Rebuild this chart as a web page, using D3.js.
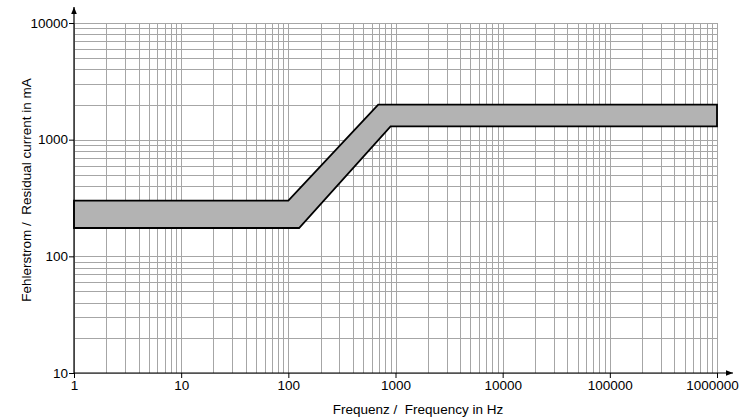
<!DOCTYPE html>
<html>
<head>
<meta charset="utf-8">
<script src="https://cdn.jsdelivr.net/npm/d3@7"></script>
<style>
  body { margin: 0; background: #fff; }
  text { font-family: "Liberation Sans", Arial, sans-serif; }
</style>
</head>
<body>
<div id="chart"></div>
<script>
// Band limits (frequency in Hz, current in mA)
var upperFreq = [1, 100, 690, 1000000]
var upperCur = [300, 300, 2000, 2000]
var lowerFreq = [1, 126, 900, 1000000]
var lowerCur = [175, 175, 1300, 1300]

var xTicks = [1, 10, 100, 1000, 10000, 100000, 1000000]
var yTicks = [10, 100, 1000, 10000]

var width = 739
var height = 419

var x = d3.scaleLog().domain([1, 1000000]).range([74, 717])
var y = d3.scaleLog().domain([10, 10000]).range([373, 23])

var svg = d3.select("#chart").append("svg")
  .attr("width", width)
  .attr("height", height)

// grid lines: every 1..9 of each decade
var xGrid = []
for (var e = 0; e < 6; e++) for (var m = 1; m < 10; m++) xGrid.push(m * Math.pow(10, e))
xGrid.push(1000000)
var yGrid = []
for (var e2 = 1; e2 < 4; e2++) for (var m2 = 1; m2 < 10; m2++) yGrid.push(m2 * Math.pow(10, e2))
yGrid.push(10000)

svg.append("g").selectAll("line")
  .data(xGrid)
  .enter().append("line")
  .attr("x1", d => Math.round(x(d)) + 0.5)
  .attr("x2", d => Math.round(x(d)) + 0.5)
  .attr("y1", y(10))
  .attr("y2", y(10000))
  .attr("stroke", "#a6a6a6")
  .attr("stroke-width", 1)

svg.append("g").selectAll("line")
  .data(yGrid)
  .enter().append("line")
  .attr("x1", x(1))
  .attr("x2", x(1000000))
  .attr("y1", d => Math.round(y(d)) + 0.5)
  .attr("y2", d => Math.round(y(d)) + 0.5)
  .attr("stroke", "#a6a6a6")
  .attr("stroke-width", 1)

// band polygon
var upper = upperFreq.map((f, i) => [x(f), y(upperCur[i])])
var lower = lowerFreq.map((f, i) => [x(f), y(lowerCur[i])])
var poly = upper.concat(lower.reverse())

svg.append("path")
  .attr("d", d3.line()(poly) + "Z")
  .attr("fill", "#b3b3b3")
  .attr("stroke", "#000")
  .attr("stroke-width", 1.8)
  .attr("stroke-linejoin", "miter")

// arrow marker
svg.append("defs").append("marker")
  .attr("id", "arrow")
  .attr("viewBox", "0 0 10 10")
  .attr("refX", 10)
  .attr("refY", 5)
  .attr("markerWidth", 7)
  .attr("markerHeight", 7)
  .attr("markerUnits", "userSpaceOnUse")
  .attr("orient", "auto")
  .append("path")
  .attr("d", "M0,1L10,5L0,9Z")
  .attr("fill", "#000")

// axes
var xAxis = d3.axisBottom(x).tickValues(xTicks).tickFormat(d3.format("d")).tickSize(5).tickSizeOuter(0).tickPadding(2)
var yAxis = d3.axisLeft(y).tickValues(yTicks).tickFormat(d3.format("d")).tickSize(5).tickSizeOuter(0).tickPadding(1)

var gx = svg.append("g")
  .attr("transform", "translate(0," + y(10) + ")")
  .call(xAxis)
gx.select(".domain").remove()
gx.selectAll("text").attr("font-size", "13.5px").attr("fill", "#000")
gx.selectAll("line").attr("stroke", "#000")
// keep the last label inside the picture
gx.selectAll("text").filter(d => d === 1000000).attr("dx", -5)

var gy = svg.append("g")
  .attr("transform", "translate(" + x(1) + ",0)")
  .call(yAxis)
gy.select(".domain").remove()
gy.selectAll("text").attr("font-size", "13.5px").attr("fill", "#000")
gy.selectAll("line").attr("stroke", "#000")

svg.append("line")
  .attr("x1", x(1)).attr("x2", 733)
  .attr("y1", y(10)).attr("y2", y(10))
  .attr("stroke", "#000").attr("stroke-width", 1.2)
  .attr("marker-end", "url(#arrow)")

svg.append("line")
  .attr("x1", x(1)).attr("x2", x(1))
  .attr("y1", y(10)).attr("y2", 7)
  .attr("stroke", "#000").attr("stroke-width", 1.2)
  .attr("marker-end", "url(#arrow)")

// axis titles
svg.append("text")
  .attr("x", 418)
  .attr("y", 414)
  .attr("text-anchor", "middle")
  .attr("font-size", "13.5px")
  .style("white-space", "pre")
  .text("Frequenz /  Frequency in Hz")

svg.append("text")
  .attr("transform", "translate(31,190) rotate(-90)")
  .attr("text-anchor", "middle")
  .attr("font-size", "13.5px")
  .style("white-space", "pre")
  .text("Fehlerstrom /  Residual current in mA")
</script>
</body>
</html>
